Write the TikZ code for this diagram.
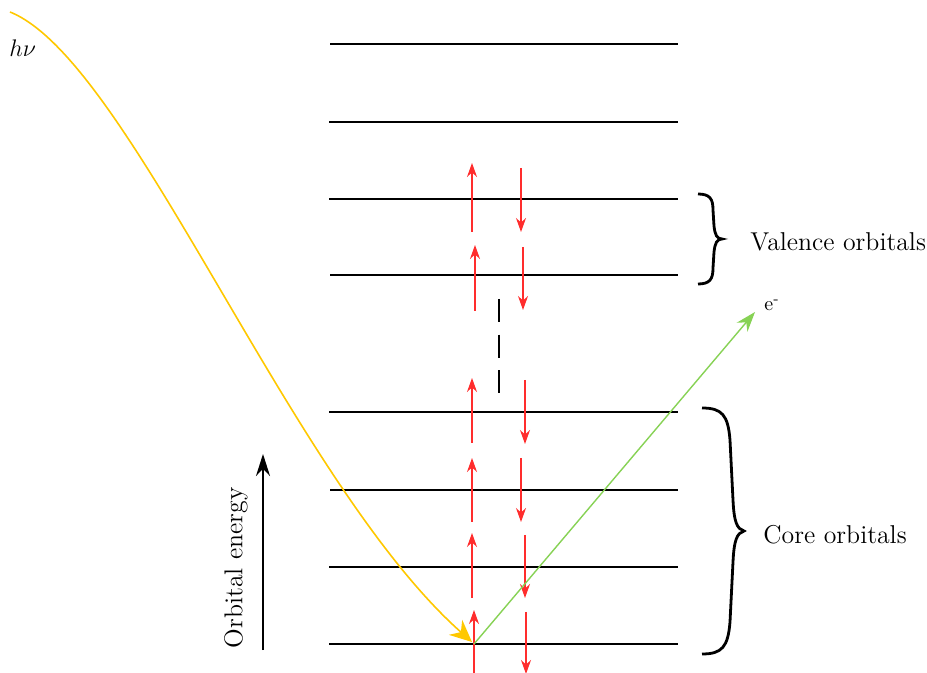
\documentclass[tikz,border=0pt]{standalone}
\usetikzlibrary{arrows.meta}
\definecolor{elred}{RGB}{255,45,45}
\definecolor{phyel}{RGB}{255,200,0}
\definecolor{elgreen}{RGB}{135,210,85}
\begin{document}
\begin{tikzpicture}[x=0.5pt,y=-0.5pt,
  level/.style={line width=1.35pt},
  spinup/.style={elred,line width=0.6pt,-{Stealth[length=7pt,width=5pt]}},
  spindown/.style={elred,line width=0.6pt,-{Stealth[length=7pt,width=5pt]}},
  lbl/.style={font=\fontsize{12.9}{15}\selectfont,inner sep=0pt},
  bracestyle/.style={line width=1.4pt}]
\useasboundingbox (0,0) rectangle (927,673);
% energy levels
\foreach \y/\xa in {44/330,122/329,199/329,275/330,412/329,490/330,567/329,644/329}
  \draw[level] (\xa,\y) -- (678,\y);
% spin up arrows
\foreach \xx/\ya/\yb in {472/232/163,475/311/245,472/443/378,472/522/458,472/598/533,474/673/610}
  \draw[spinup] (\xx,\ya) -- (\xx,\yb);
% spin down arrows
\foreach \xx/\ya/\yb in {521/168/232,523/247/310,525/380/444,521/458/522,525/535/598,526/612/674}
  \draw[spindown] (\xx,\ya) -- (\xx,\yb);
% dashed gap
\draw[line width=0.7pt,dash pattern=on 11.5pt off 6.3pt] (499,299) -- (499,395);
% photon
\coordinate (ps) at (10,12);
\coordinate (ion) at (472,642);
\node[lbl,anchor=west] (hv) at (9,48) {$h\nu$};
\draw[phyel,line width=0.8pt,-{Stealth[length=11pt,width=10pt]}] (ps) .. controls (130,60) and (290,480) .. (ion);
% photoelectron
\coordinate (es) at (474,644);
\coordinate (ee) at (755,312);
\draw[elgreen,line width=0.7pt,-{Stealth[length=10pt,width=7pt]}] (es) -- (ee);
\node[inner sep=0pt,anchor=west,font=\fontsize{10}{12}\selectfont] (el) at (764,305) {e\textsuperscript{-}};
% valence brace
\coordinate (vt) at (698,194);
\coordinate (vm) at (722,239);
\coordinate (vb) at (698,284);
\draw[bracestyle] (vt) .. controls (710,194) and (713,199) .. (713,210) -- (714,226)
  .. controls (715,235) and (717,239) .. (vm)
  .. controls (717,239) and (715,243) .. (714,252) -- (713,268)
  .. controls (713,279) and (710,284) .. (vb);
\node[lbl,anchor=west] (val) at (750,242) {Valence orbitals};
% core brace
\coordinate (ct) at (702,408);
\coordinate (cm) at (744,531);
\coordinate (cb) at (702,654);
\draw[bracestyle] (ct) .. controls (722,408) and (728,415) .. (730,440) -- (733,500)
  .. controls (734,522) and (737,529) .. (cm)
  .. controls (737,533) and (734,540) .. (733,562) -- (730,622)
  .. controls (728,647) and (722,654) .. (cb);
\node[lbl,anchor=west] (core) at (763,535) {Core orbitals};
% energy axis
\coordinate (ea) at (263,650);
\coordinate (eb) at (263,454);
\draw[line width=0.8pt,-{Stealth[length=11pt,width=7pt]}] (ea) -- (eb);
\node[lbl,rotate=90] (oe) at (236,568) {Orbital energy};
\end{tikzpicture}
\end{document}
